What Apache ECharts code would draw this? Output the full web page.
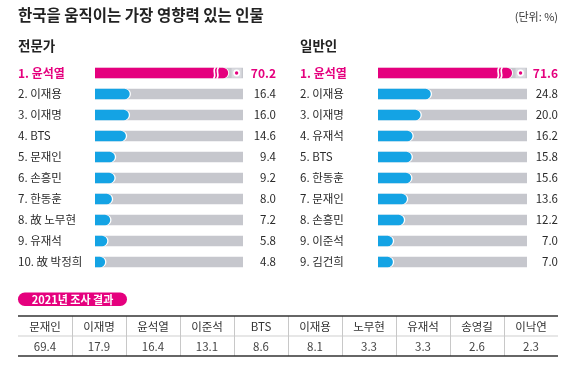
<!DOCTYPE html>
<html>
<head>
<meta charset="utf-8">
<script src="https://cdn.jsdelivr.net/npm/echarts@6/dist/echarts.min.js"></script>
<style>
html,body{margin:0;padding:0;background:#fff;}
#main{width:580px;height:373px;}
</style>
</head>
<body>
<div id="main"></div>
<script>
const titleText = '한국을 움직이는 가장 영향력 있는 인물';
const unitText = '(단위: %)';
const expertTitle = '전문가';
const publicTitle = '일반인';
const expertNames = ['1. 윤석열', '2. 이재용', '3. 이재명', '4. BTS', '5. 문재인', '6. 손흥민', '7. 한동훈', '8. 故 노무현', '9. 유재석', '10. 故 박정희'];
const expertValues = [70.2, 16.4, 16.0, 14.6, 9.4, 9.2, 8.0, 7.2, 5.8, 4.8];
const publicNames = ['1. 윤석열', '2. 이재용', '3. 이재명', '4. 유재석', '5. BTS', '6. 한동훈', '7. 문재인', '8. 손흥민', '9. 이준석', '9. 김건희'];
const publicValues = [71.6, 24.8, 20.0, 16.2, 15.8, 15.6, 13.6, 12.2, 7.0, 7.0];
const surveyTitle = '2021년 조사 결과';
const survey2021Names = ['문재인', '이재명', '윤석열', '이준석', 'BTS', '이재용', '노무현', '유재석', '송영길', '이낙연'];
const survey2021Values = [69.4, 17.9, 16.4, 13.1, 8.6, 8.1, 3.3, 3.3, 2.6, 2.3];

const FONT = '"Noto Sans CJK KR", "Noto Sans", sans-serif';
const PINK = '#e5007e';
const BLUE = '#14a3e4';
const TRACK = '#c6c7cd';
const DARK = '#2b2b2b';
const AXIS_MAX = 70;
const CAP = 63;
const BAR_H = 10.5;

const chart = echarts.init(document.getElementById('main'), null, {renderer: 'canvas'});

function renderBar(params, api) {
  const v = api.value(0), idx = api.value(1);
  const p0 = api.coord([0, idx]);
  const pMax = api.coord([AXIS_MAX, idx]);
  const y = p0[1] - BAR_H / 2;
  const R = BAR_H / 2;
  const children = [{type: 'rect', shape: {x: p0[0], y: y, width: pMax[0] - p0[0], height: BAR_H}, style: {fill: TRACK}}];
  if (v > AXIS_MAX) {
    const pc = api.coord([CAP, idx]);
    const pb = api.coord([CAP - 6.5, idx]);
    children.push({type: 'rect', shape: {x: p0[0], y: y, width: pc[0] - p0[0] + 1, height: BAR_H, r: [0, R, R, 0]}, style: {fill: '#fff'}});
    children.push({type: 'rect', shape: {x: p0[0], y: y, width: pc[0] - p0[0], height: BAR_H, r: [0, R, R, 0]}, style: {fill: PINK}});
    [0, 3.2].forEach(function (dx) {
      const bx = pb[0] + dx;
      children.push({type: 'path', shape: {pathData: 'M' + (bx + 1) + ' ' + (y - 0.5) + ' C' + (bx - 2.8) + ' ' + (y + 3) + ' ' + (bx + 2.8) + ' ' + (y + BAR_H - 3) + ' ' + (bx - 1) + ' ' + (y + BAR_H + 0.5)}, style: {fill: 'none', stroke: '#fff', lineWidth: 1.6}});
    });
    const cx = (pc[0] + pMax[0]) / 2 + 1;
    children.push({type: 'rect', shape: {x: cx - 5, y: y + 0.5, width: 10, height: BAR_H - 1}, style: {fill: '#d9dadf'}});
    children.push({type: 'circle', shape: {cx: cx, cy: p0[1], r: 3.4}, style: {fill: '#fff'}});
    children.push({type: 'circle', shape: {cx: cx, cy: p0[1], r: 1.7}, style: {fill: PINK}});
  } else {
    const pv = api.coord([v, idx]);
    const w = pv[0] - p0[0];
    children.push({type: 'rect', shape: {x: p0[0], y: y, width: w + 1.3, height: BAR_H, r: [0, R + 0.5, R + 0.5, 0]}, style: {fill: '#fff'}});
    children.push({type: 'rect', shape: {x: p0[0], y: y, width: w, height: BAR_H, r: [0, R, R, 0]}, style: {fill: BLUE}});
  }
  return {type: 'group', children: children};
}

const labelRich = {
  hi: {color: PINK, fontWeight: 'bold', fontSize: 12, fontFamily: FONT},
  n: {color: DARK, fontSize: 11.5, fontFamily: FONT}
};

function nameAxis(gridIndex, names, margin) {
  return {
    type: 'category', gridIndex: gridIndex, inverse: true, data: names,
    axisLine: {show: false}, axisTick: {show: false}, splitLine: {show: false},
    axisLabel: {align: 'left', margin: margin, rich: labelRich,
      formatter: function (val, i) { return (i === 0 ? '{hi|' : '{n|') + val + '}'; }}
  };
}
function valueAxis(gridIndex, names, values, margin) {
  return {
    type: 'category', gridIndex: gridIndex, inverse: true, position: 'right', data: names,
    axisLine: {show: false}, axisTick: {show: false}, splitLine: {show: false},
    axisLabel: {align: 'right', margin: margin, rich: labelRich,
      formatter: function (val, i) { return (i === 0 ? '{hi|' : '{n|') + values[i].toFixed(1) + '}'; }}
  };
}

const ROW = 21;
const graphics = [
  {type: 'text', left: 18, top: 7.5, style: {text: titleText, font: 'bold 15.5px ' + FONT, fill: '#222'}},
  {type: 'text', right: 22, top: 11, style: {text: unitText, font: '11px ' + FONT, fill: '#333'}},
  {type: 'text', left: 18, top: 39, style: {text: expertTitle, font: 'bold 13.5px ' + FONT, fill: '#222'}},
  {type: 'text', left: 300, top: 39, style: {text: publicTitle, font: 'bold 13.5px ' + FONT, fill: '#222'}},
  {type: 'rect', shape: {x: 18, y: 292.5, width: 109, height: 13.5, r: 6.75}, style: {fill: PINK}},
  {type: 'text', x: 72.5, y: 299.5, style: {text: surveyTitle, font: 'bold 11px ' + FONT, fill: '#fff', align: 'center', verticalAlign: 'middle'}}
];
const tX0 = 18, tX1 = 558, tTop = 316, tMid = 336, tBot = 356;
const colW = (tX1 - tX0) / survey2021Names.length;
graphics.push({type: 'line', shape: {x1: tX0, y1: tMid, x2: tX1, y2: tMid}, style: {stroke: '#cfcfcf', lineWidth: 1}});
for (let i = 1; i < survey2021Names.length; i++) {
  const x = Math.round(tX0 + colW * i) + 0.5;
  graphics.push({type: 'line', shape: {x1: x, y1: tTop, x2: x, y2: tBot}, style: {stroke: '#c8c8c8', lineWidth: 1}});
}
survey2021Names.forEach(function (n, i) {
  const cx = tX0 + colW * (i + 0.5);
  graphics.push({type: 'text', x: cx, y: (tTop + tMid) / 2 + 0.5, style: {text: n, font: '11.5px ' + FONT, fill: '#333', align: 'center', verticalAlign: 'middle'}});
  graphics.push({type: 'text', x: cx, y: (tMid + tBot) / 2 + 0.5, style: {text: survey2021Values[i].toFixed(1), font: '11.5px ' + FONT, fill: '#444', align: 'center', verticalAlign: 'middle'}});
});
graphics.push({type: 'line', shape: {x1: tX0, y1: tTop, x2: tX1, y2: tTop}, style: {stroke: '#333', lineWidth: 1.6}});
graphics.push({type: 'line', shape: {x1: tX0, y1: tBot, x2: tX1, y2: tBot}, style: {stroke: '#333', lineWidth: 1.6}});

chart.setOption({
  animation: false,
  backgroundColor: '#fff',
  textStyle: {fontFamily: FONT},
  grid: [
    {left: 95, top: 62.5, width: 148, height: ROW * expertNames.length},
    {left: 378, top: 62.5, width: 149, height: ROW * publicNames.length}
  ],
  xAxis: [
    {type: 'value', gridIndex: 0, min: 0, max: AXIS_MAX, show: false},
    {type: 'value', gridIndex: 1, min: 0, max: AXIS_MAX, show: false}
  ],
  yAxis: [
    nameAxis(0, expertNames, 77),
    valueAxis(0, expertNames, expertValues, 33),
    nameAxis(1, publicNames, 78),
    valueAxis(1, publicNames, publicValues, 31)
  ],
  series: [
    {type: 'custom', xAxisIndex: 0, yAxisIndex: 0, clip: false, renderItem: renderBar, encode: {x: 0, y: 1},
      data: expertValues.map(function (v, i) { return [v, i]; })},
    {type: 'custom', xAxisIndex: 1, yAxisIndex: 2, clip: false, renderItem: renderBar, encode: {x: 0, y: 1},
      data: publicValues.map(function (v, i) { return [v, i]; })}
  ],
  graphic: graphics
});
</script>
</body>
</html>
